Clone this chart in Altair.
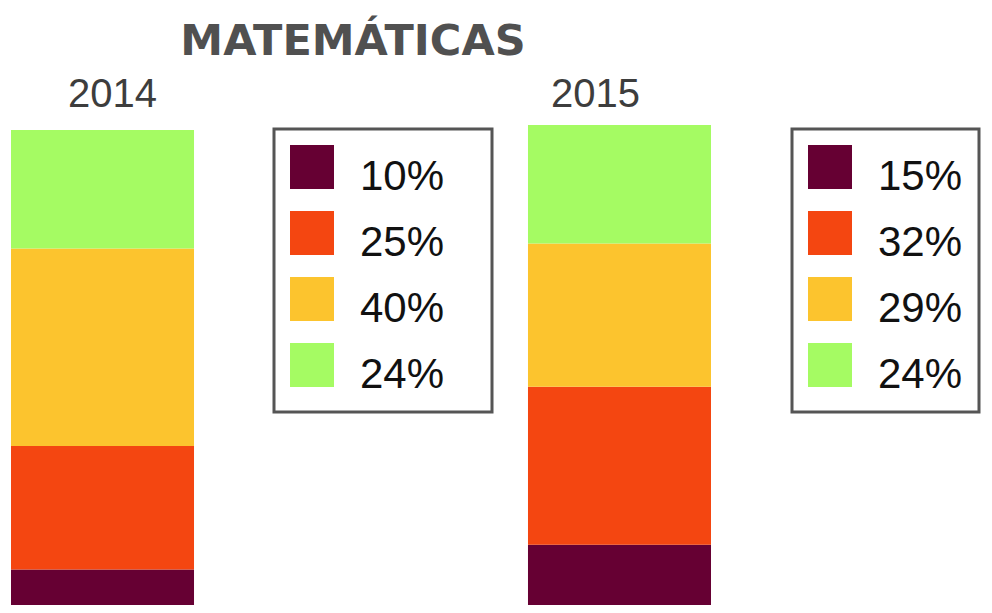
import altair as alt
import pandas as pd

# ---- data ----
years = ["2014", "2015"]
levels = [1, 2, 3, 4]                      # bottom -> top
pct_2014 = [10, 25, 40, 24]
pct_2015 = [15, 32, 29, 24]
labels_2014 = ["10%", "25%", "40%", "24%"]
labels_2015 = ["15%", "32%", "29%", "24%"]
colors = ["#660033", "#F44611", "#FCC42E", "#A5FB63"]
title_text = "MATEMÁTICAS"

rows = []
for yr, vals, labs in [(years[0], pct_2014, labels_2014), (years[1], pct_2015, labels_2015)]:
    for lv, v, lb in zip(levels, vals, labs):
        rows.append({"year": yr, "level": lv, "value": v, "label": lb})
df = pd.DataFrame(rows)

x_enc = alt.X(
    "year:N",
    scale=alt.Scale(domain=years, paddingInner=0.646, paddingOuter=0),
    axis=alt.Axis(
        orient="top", title=None, domain=False, ticks=False, grid=False, labelAngle=0,
        labelFont="Liberation Sans", labelFontSize=40, labelColor="#3d3d3d",
        labelBaseline="alphabetic", labelPadding=14,
        labelOffset={"condition": {"test": "datum.value === '2014'", "value": 10}, "value": -24},
    ),
)
y_enc = alt.Y(
    "value:Q", stack="zero",
    scale=alt.Scale(domain=[2.8, 101.0], nice=False, zero=False),
    axis=None,
)


def layer(year, labels, lx, pad):
    return alt.Chart(df).transform_filter(
        alt.datum.year == year
    ).mark_bar(clip=True, strokeWidth=0).encode(
        x=x_enc,
        y=y_enc,
        order=alt.Order("level:Q", sort="ascending"),
        color=alt.Color(
            "label:N",
            scale=alt.Scale(domain=labels, range=colors),
            legend=alt.Legend(
                title=None, orient="none", legendX=lx, legendY=9,
                symbolType="square", symbolSize=1936, symbolStrokeWidth=0,
                labelFont="Liberation Sans", labelFontSize=42, labelColor="#111111",
                labelOffset=26, labelBaseline="line-top",
                labelExpr="datum.label + '" + pad + "'",
                padding=16, rowPadding=13, strokeColor="#555555",
            ),
        ),
    )


chart = alt.layer(
    layer(years[0], labels_2014, 263, "\u2800"),
    layer(years[1], labels_2015, 781, ""),
).resolve_scale(color="independent").resolve_legend(color="independent").properties(
    width=700,
    height=485,
    padding={"left": 3, "top": 112, "right": 273, "bottom": 0},
    autosize=alt.AutoSizeParams(type="none"),
    title=alt.TitleParams(
        title_text, font="DejaVu Sans", fontSize=43, fontWeight="bold",
        color="#505050", anchor="middle", frame="group", dx=-8, offset=10,
    ),
).configure(
    style={"guide-label": {"lineHeight": 22}}
).configure_view(stroke=None, strokeWidth=0).configure_axis(
    domain=False, grid=False, ticks=False
).configure_legend(strokeWidth=3)

chart.save("out.html", embed_options={"renderer": "svg", "actions": False})
